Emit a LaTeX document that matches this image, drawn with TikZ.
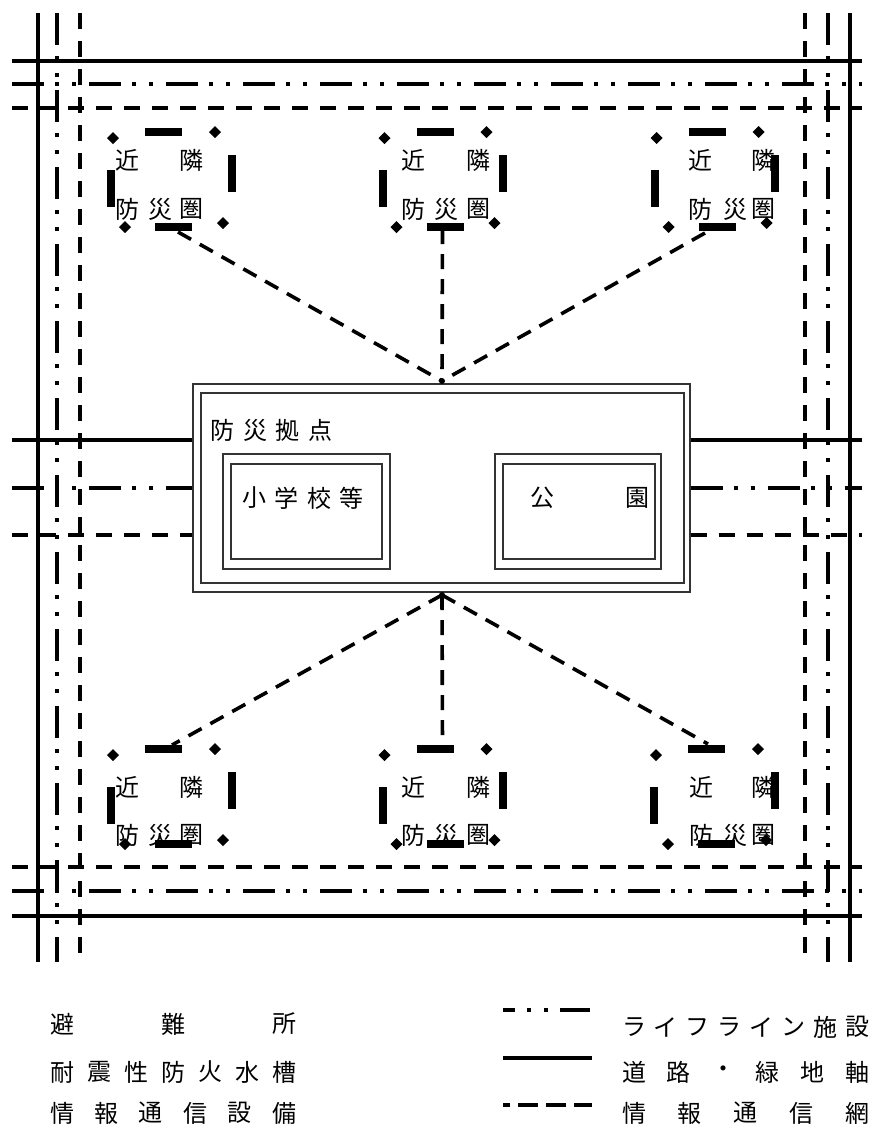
\documentclass[tikz,border=0pt]{standalone}
\usepackage{fontspec}
\newfontfamily\jpfont{Noto Sans CJK JP}
\usetikzlibrary{calc}
\begin{document}
\begin{tikzpicture}[x=1pt,y=-1pt,
  road/.style={line width=3.5pt},
  life/.style={line width=4pt,dash pattern=on 32pt off 11pt on 4pt off 13pt on 4pt off 13pt},
  info/.style={line width=4pt,dash pattern=on 16pt off 12pt},
  link/.style={line width=3.6pt,dash pattern=on 15pt off 10pt},
  nbar/.style={line width=8pt},
  jp/.style={font=\jpfont\fontsize{24}{24}\selectfont,inner sep=0pt,anchor=center},
  frame/.style={draw=black!80,line width=1.3pt,inner sep=0pt,fill=none},
  nbhd/.pic={
    \draw[nbar] (-26,-47.5) -- (11,-47.5);
    \draw[nbar] (60.5,-24.5) -- (60.5,12.5);
    \draw[nbar] (-16,47.5) -- (21,47.5);
    \draw[nbar] (-60,-9.5) -- (-60,27.5);
    \foreach \dx/\dy in {-58/-41.5, 44/-47.5, 52/43.5, -46/47.5}
      \fill (\dx,\dy) +(-6,0) -- +(0,6) -- +(6,0) -- +(0,-6) -- cycle;
  }]
\useasboundingbox[fill=white] (0,0) rectangle (871,1136);

% ---- outer grid ----
\draw[road] (38,13) -- (38,962);
\draw[life] (57,13) -- (57,962);
\draw[info] (80,13) -- (80,962);
\draw[info] (805,13) -- (805,962);
\draw[life] (828,13) -- (828,962);
\draw[road] (850,13) -- (850,962);
\draw[road] (12,61) -- (862,61);
\draw[life] (12,84) -- (862,84);
\draw[info] (12,108) -- (862,108);
\draw[info] (12,867) -- (862,867);
\draw[life] (12,891) -- (862,891);
\draw[road] (12,916) -- (862,916);

% ---- central base ----
\node[frame,minimum width=497pt,minimum height=208pt] (base) at (441.5,488) {};
\node[frame,minimum width=483pt,minimum height=190pt] (basein) at (442.5,488) {};
\node[frame,minimum width=167pt,minimum height=115pt] (school) at (306.5,511.5) {};
\node[frame,minimum width=151pt,minimum height=95pt] (schoolin) at (306.5,511.5) {};
\node[frame,minimum width=166pt,minimum height=115pt] (park) at (578,511.5) {};
\node[frame,minimum width=152pt,minimum height=95pt] (parkin) at (579,511.5) {};

\foreach \ch [count=\i] in {防,災,拠,点}
  \node[jp] (kyo-\i) at ({222.5+(\i-1)*32.7},430) {\ch};
\foreach \ch [count=\i] in {小,学,校,等}
  \node[jp] (sho-\i) at ({254.5+(\i-1)*32.3},498) {\ch};
\node[jp] (ko-1) at (542,498) {公};
\node[jp] (ko-2) at (637,498) {園};

% ---- side links ----
\coordinate (wl1) at (12,440); \coordinate (wl2) at (12,488); \coordinate (wl3) at (12,535);
\coordinate (el1) at (862,440); \coordinate (el2) at (862,488); \coordinate (el3) at (862,535);
\draw[road] (wl1) -- (wl1 -| base.west);
\draw[life] (wl2) -- (wl2 -| base.west);
\draw[info] (wl3) -- (wl3 -| base.west);
\draw[road] (base.east |- el1) -- (el1);
\draw[life] (base.east |- el2) -- (el2);
\draw[info] (base.east |- el3) -- (el3);

% ---- neighbourhood circles ----
\pic (n1) at (171,179.5) {nbhd};
\pic (n2) at (442.5,179.5) {nbhd};
\pic (n3) at (714.5,179.5) {nbhd};
\pic (n4) at (171,796.5) {nbhd};
\pic (n5) at (442.5,796.5) {nbhd};
\pic (n6) at (714,796.5) {nbhd};

\newcommand\nbtext[7]{%
  \node[jp] (#1-a) at (#2,#6) {近};
  \node[jp] (#1-b) at (#4,#6) {隣};
  \node[jp] (#1-c) at (#2,#7) {防};
  \node[jp] (#1-d) at (#3,#7) {災};
  \node[jp] (#1-e) at (#4,#7) {圏};}
\nbtext{t1}{127.5}{160}{191.5}{}{160}{209}
\nbtext{t2}{413.5}{446}{478.5}{}{160}{209}
\nbtext{t3}{700}{735}{763}{}{160}{209}
\nbtext{t4}{127.5}{160}{191.5}{}{787}{835}
\nbtext{t5}{413.5}{446}{478.5}{}{787}{835}
\nbtext{t6}{701}{735}{763.5}{}{787}{835}

% ---- info links ----
\coordinate (hubT) at (442,381);
\coordinate (hubB) at (442,595);
\coordinate (c1) at (178,232);
\coordinate (c2) at (442.5,229);
\coordinate (c3) at (705,233);
\coordinate (c4) at (172,745);
\coordinate (c5) at (442.5,747);
\coordinate (c6) at (708,744);
\draw[link] (c1) -- (hubT);
\draw[link] (c2) -- (hubT);
\draw[link] (c3) -- (hubT);
\draw[link] (hubB) -- (c4);
\draw[link] (hubB) -- (c5);
\draw[link] (hubB) -- (c6);
\fill (hubT) circle (3);
\fill (hubB) circle (3);

% ---- legend ----
\foreach \ch/\x [count=\i] in {避/62,難/173,所/284}
  \node[jp] (la-\i) at (\x,1024) {\ch};
\foreach \ch [count=\i] in {耐,震,性,防,火,水,槽}
  \node[jp] (lb-\i) at ({62+(\i-1)*37},1072) {\ch};
\foreach \ch [count=\i] in {情,報,通,信,設,備}
  \node[jp] (lc-\i) at ({62+(\i-1)*44.4},1113) {\ch};

\coordinate (g1a) at (503,1010); \coordinate (g1b) at (592,1010);
\coordinate (g2a) at (503,1058); \coordinate (g2b) at (592,1058);
\coordinate (g3a) at (503,1105); \coordinate (g3b) at (592,1105);
\draw[line width=4pt,dash pattern=on 30pt off 12pt on 4pt off 13pt on 4pt off 12pt,dash phase=18pt] (g1a) -- (g1b);
\draw[road] (g2a) -- (g2b);
\draw[line width=4pt,dash pattern=on 20pt off 8pt,dash phase=13pt] (g3a) -- (g3b);

\foreach \ch [count=\i] in {ラ,イ,フ,ラ,イ,ン,施,設}
  \node[jp] (ra-\i) at ({634+(\i-1)*31.9},1027) {\ch};
\foreach \ch [count=\i] in {道,路,・,緑,地,軸}
  \node[jp] (rb-\i) at ({634+(\i-1)*44.6},1072) {\ch};
\foreach \ch [count=\i] in {情,報,通,信,網}
  \node[jp] (rc-\i) at ({634+(\i-1)*55.75},1113) {\ch};
\end{tikzpicture}
\end{document}
